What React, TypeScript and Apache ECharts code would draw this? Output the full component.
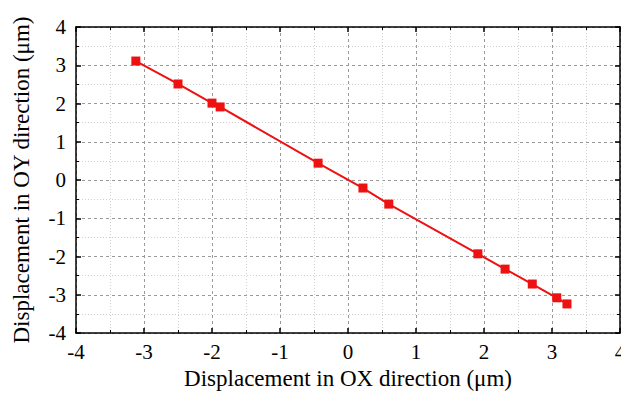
import React, { useEffect, useRef } from "react";
import * as echarts from "echarts";

const xValues = [-3.12, -2.5, -2.0, -1.88, -0.44, 0.22, 0.6, 1.91, 2.31, 2.71, 3.07, 3.22];
const yValues = [3.11, 2.51, 2.01, 1.91, 0.44, -0.21, -0.63, -1.93, -2.33, -2.72, -3.08, -3.24];
const xTitle = "Displacement in OX direction (μm)";
const yTitle = "Displacement in OY direction (μm)";

const FONT = "Liberation Serif";

export default function App() {
  const ref = useRef<HTMLDivElement>(null);
  useEffect(() => {
    if (!ref.current) return;
    const chart = echarts.init(ref.current, undefined, { renderer: "svg" });
    const data = xValues.map((x, i) => [x, yValues[i]]);
    const axisCommon = {
      type: "value" as const,
      min: -4,
      max: 4,
      interval: 1,
      axisLine: { show: true, onZero: false, lineStyle: { color: "#000", width: 1.5 } },
      axisTick: { show: true, inside: true, length: 5, lineStyle: { color: "#000", width: 1.5 } },
      minorTick: { show: true, splitNumber: 2, length: 3, lineStyle: { color: "#000", width: 1 } },
    };
    chart.setOption({
      animation: false,
      backgroundColor: "#fff",
      textStyle: { fontFamily: FONT },
      grid: { left: 76, right: 1, top: 27, bottom: 61, containLabel: false, outerBoundsMode: "none" },
      xAxis: [
        {
          ...axisCommon,
          position: "bottom",
          name: xTitle,
          nameLocation: "middle",
          nameGap: 32,
          nameTextStyle: { fontFamily: FONT, fontSize: 23, color: "#000", verticalAlign: "top" },
          axisLabel: { fontFamily: FONT, fontSize: 21, color: "#000", margin: 8 },
          splitLine: { show: true, lineStyle: { color: "#9a9a9a", type: [3, 3], width: 1 } },
          minorSplitLine: { show: true, lineStyle: { color: "#d0d0d0", type: [1, 2], width: 1 } },
        },
        {
          ...axisCommon,
          position: "top",
          axisLabel: { show: false },
          splitLine: { show: false },
        },
      ],
      yAxis: [
        {
          ...axisCommon,
          position: "left",
          name: yTitle,
          nameLocation: "middle",
          nameGap: 43,
          nameTextStyle: { fontFamily: FONT, fontSize: 23, color: "#000" },
          axisLabel: { fontFamily: FONT, fontSize: 21, color: "#000", margin: 10 },
          splitLine: { show: true, lineStyle: { color: "#9a9a9a", type: [3, 3], width: 1 } },
          minorSplitLine: { show: true, lineStyle: { color: "#d0d0d0", type: [1, 2], width: 1 } },
        },
        {
          ...axisCommon,
          position: "right",
          axisLabel: { show: false },
          splitLine: { show: false },
        },
      ],
      series: [
        {
          type: "line",
          data,
          xAxisIndex: 0,
          yAxisIndex: 0,
          symbol: "rect",
          symbolSize: 9,
          lineStyle: { color: "#ee1111", width: 2 },
          itemStyle: { color: "#ee1111" },
        },
      ],
    });
    return () => chart.dispose();
  }, []);
  return (
    <div
      ref={ref}
      style={{ position: "fixed", left: 0, top: 0, width: 621, height: 394, background: "#fff" }}
    />
  );
}
